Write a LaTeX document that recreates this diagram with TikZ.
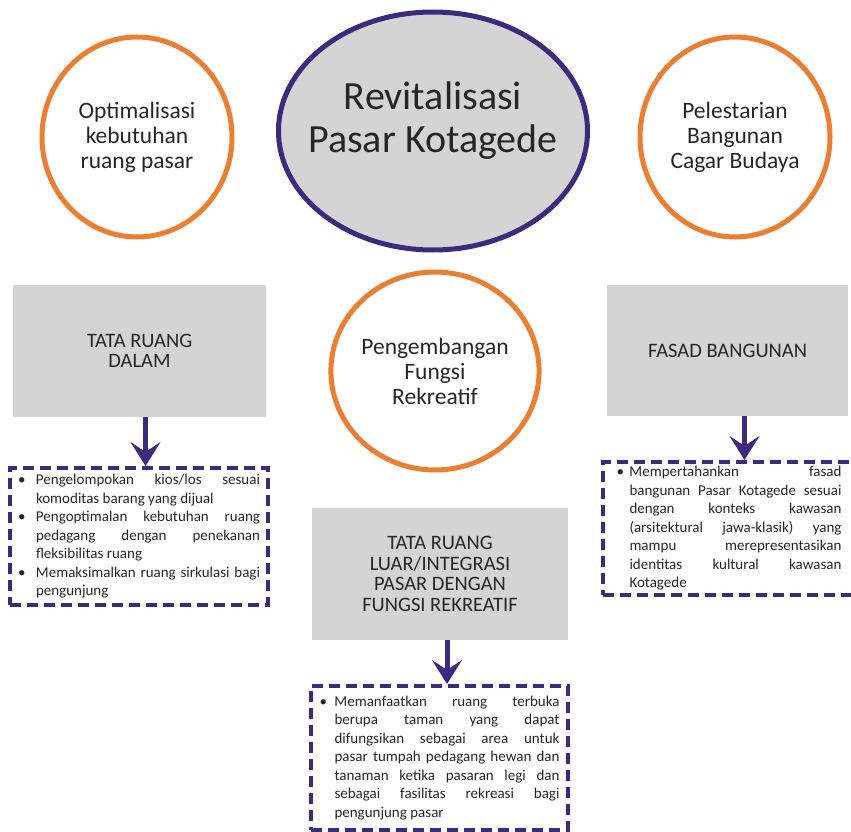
\documentclass[tikz,border=0pt]{standalone}
\usepackage{fontspec}
\setmainfont{Carlito}
\usetikzlibrary{shapes.geometric,arrows.meta}

\definecolor{ungu}{RGB}{62,40,128}
\definecolor{oranye}{RGB}{237,125,49}
\definecolor{abu}{RGB}{212,212,213}

\tolerance=10000 % forced justified lines
\hbadness=10000

\newlength\gantung
\newcommand\butir[1]{\par\setlength\gantung{#1}\hangindent=\gantung\hangafter=1\noindent\makebox[\gantung][l]{\textbullet}}

\begin{document}
\begin{tikzpicture}[x=1pt,y=-1pt,
    every node/.style={text=black!85},
    bulat/.style={ellipse,draw=oranye,line width=5pt,minimum width=190pt,minimum height=200pt,
        inner sep=0pt,align=center,font=\fontsize{23.5}{25}\selectfont},
    kotak/.style={rectangle,fill=abu,inner sep=0pt,align=center,font=\fontsize{20.5}{20.5}\selectfont},
    daftar/.style={rectangle,draw=ungu,line width=4pt,dash pattern=on 11pt off 6pt,inner sep=0pt,
        font=\fontsize{15}{18.5}\selectfont},
    panah/.style={draw=ungu,line width=5pt,-{Stealth[length=24pt,width=30pt,inset=10pt]}}]

    \useasboundingbox (0,0) rectangle (851,832); % page

    % Centre
    \node[ellipse,draw=ungu,line width=5pt,fill=abu,minimum width=309pt,minimum height=238pt] (pusat) at (433,131) {};
    \node[font=\fontsize{40}{43}\selectfont,align=center] (judul) at ([yshift=10pt]pusat.center) {Revitalisasi\\Pasar Kotagede};

    % Aspects
    \node[bulat] (optimal) at (137,137) {Optimalisasi\\kebutuhan\\ruang pasar};
    \node[bulat] (lestari) at (735,137) {Pelestarian\\Bangunan\\Cagar Budaya};
    \node[bulat,minimum height=198pt] (rekreasi) at (435,371) {Pengembangan\\Fungsi\\Rekreatif};

    \node[kotak,minimum width=253pt,minimum height=132pt] (dalam) at (139.5,351) {TATA RUANG\\DALAM};
    \node[kotak,minimum width=241pt,minimum height=131pt] (fasad) at (727.5,350.5) {FASAD BANGUNAN};
    \node[kotak,minimum width=256pt,minimum height=132pt] (luar) at (440,574) {TATA RUANG\\LUAR/INTEGRASI\\PASAR DENGAN\\FUNGSI REKREATIF};

    % Details
    \node[daftar,minimum width=258pt,minimum height=137pt] (dalamket) at (139,536.5) {\parbox{242pt}{%
        \butir{18pt}Pengelompokan kios/los sesuai\linebreak komoditas barang yang dijual
        \butir{18pt}Pengoptimalan kebutuhan ruang\linebreak pedagang dengan penekanan\linebreak fleksibilitas ruang
        \butir{18pt}Memaksimalkan ruang sirkulasi bagi\linebreak pengunjung}};
    \node[daftar,minimum width=252pt,minimum height=133pt] (fasadket) at (729,528.5) {\parbox{225pt}{%
        \butir{13pt}Mempertahankan fasad\linebreak bangunan Pasar Kotagede sesuai\linebreak dengan konteks kawasan\linebreak
        (arsitektural jawa-klasik) yang\linebreak mampu merepresentasikan\linebreak identitas kultural kawasan\linebreak Kotagede}};
    \node[daftar,minimum width=257pt,minimum height=144pt] (luarket) at (439.5,758) {\parbox{240pt}{%
        \butir{15pt}Memanfaatkan ruang terbuka\linebreak berupa taman yang dapat\linebreak difungsikan sebagai area untuk\linebreak
        pasar tumpah pedagang hewan dan\linebreak tanaman ketika pasaran legi dan\linebreak sebagai fasilitas rekreasi bagi\linebreak pengunjung pasar}};

    \draw[panah] ([xshift=6pt]dalam.south) -- ([xshift=6.5pt]dalamket.north);
    \draw[panah] ([xshift=17pt]fasad.south) -- ([xshift=15.5pt]fasadket.north);
    \draw[panah] ([xshift=7pt]luar.south) -- ([xshift=7.5pt]luarket.north);
\end{tikzpicture}
\end{document}
